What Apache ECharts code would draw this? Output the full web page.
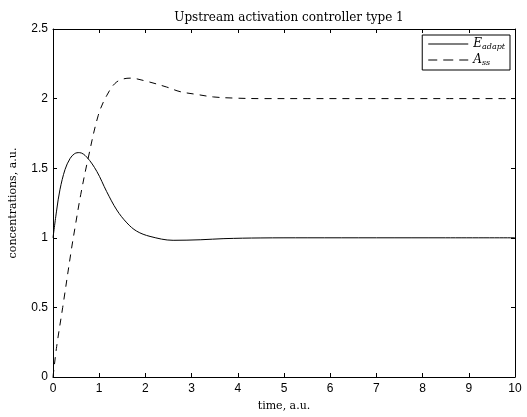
<!DOCTYPE html>
<html>
<head>
<meta charset="utf-8">
<script src="https://cdn.jsdelivr.net/npm/echarts@6/dist/echarts.min.js"></script>
<style>
  html, body { margin: 0; padding: 0; background: #fff; }
  #chart { width: 527px; height: 417px; }
</style>
</head>
<body>
<div id="chart"></div>
<script>
// Response of the adaptation controller
const timeE = [0, 0.08, 0.15, 0.26, 0.37, 0.47, 0.57, 0.73, 0.95, 1.16, 1.38, 1.6, 1.81, 2.1, 2.6, 3.2, 3.7, 4.5, 5.5, 7, 8.5, 10];
const eAdapt = [1.0, 1.20, 1.345, 1.49, 1.57, 1.605, 1.612, 1.58, 1.476, 1.333, 1.20, 1.107, 1.048, 1.01, 0.982, 0.986, 0.994, 0.999, 1.0, 1.0, 1.0, 1.0];

// Steady-state activator
const timeA = [0, 0.08, 0.21, 0.4, 0.48, 0.6, 0.76, 0.98, 1.16, 1.38, 1.67, 2.03, 2.46, 2.75, 3.11, 3.47, 3.9, 4.5, 5.5, 7, 8.5, 10];
const aSS = [0.0, 0.22, 0.5, 0.92, 1.08, 1.31, 1.57, 1.88, 2.02, 2.12, 2.147, 2.124, 2.083, 2.05, 2.03, 2.012, 2.004, 2.0, 2.0, 2.0, 2.0, 2.0];

const xTicks = [0, 1, 2, 3, 4, 5, 6, 7, 8, 9, 10];
const yTicks = [0, 0.5, 1, 1.5, 2, 2.5];

const serif = '"DejaVu Serif", "Liberation Serif", serif';
const sans = '"Liberation Sans", Arial, sans-serif';

const pairs = (xs, ys) => xs.map((x, i) => [x, ys[i]]);

// Legend keys: a plain stroke and a three-dash stroke
const solidKey = 'path://M0,0L40,0L40,1L0,1Z';
const dashedKey = 'path://M0,0L9,0L9,1L0,1Z M15,0L25,0L25,1L15,1Z M31,0L40,0L40,1L31,1Z';

const chart = echarts.init(document.getElementById('chart'), null, { renderer: 'canvas' });

const axisStyle = () => ({
  axisLine: { show: true, onZero: false, lineStyle: { color: '#000', width: 1 } },
  axisTick: { show: true, inside: true, length: 4, lineStyle: { color: '#000', width: 1 } },
  splitLine: { show: false }
});

chart.setOption({
  animation: false,
  backgroundColor: '#fff',
  title: {
    text: 'Upstream activation controller type 1',
    left: 284,
    textAlign: 'center',
    top: 7,
    textStyle: { fontFamily: serif, fontSize: 12, fontWeight: 'normal', color: '#000' }
  },
  grid: { left: 53, right: 12, top: 29, bottom: 37, containLabel: false },
  legend: {
    right: 17,
    top: 35,
    orient: 'vertical',
    itemWidth: 40,
    itemHeight: 1,
    itemGap: 2,
    padding: [2, 5, 3, 6],
    borderColor: '#000',
    borderWidth: 1,
    backgroundColor: '#fff',
    data: [
      { name: 'E', icon: solidKey, itemStyle: { color: '#000', borderWidth: 0 } },
      { name: 'A', icon: dashedKey, itemStyle: { color: '#000', borderWidth: 0 } }
    ],
    formatter: function (name) {
      return name === 'E' ? '{i|E}{s|adapt}' : '{i|A}{s|ss}';
    },
    textStyle: {
      rich: {
        i: { fontFamily: serif, fontStyle: 'italic', fontSize: 12, color: '#000', lineHeight: 15 },
        s: { fontFamily: serif, fontStyle: 'italic', fontSize: 8, color: '#000', lineHeight: 15, padding: [6, 0, 0, 0] }
      }
    }
  },
  xAxis: [
    Object.assign({
      type: 'value', min: 0, max: 10, interval: 1, position: 'bottom',
      name: 'time, a.u.', nameLocation: 'middle', nameGap: 24,
      nameTextStyle: { fontFamily: serif, fontSize: 11, color: '#000' },
      axisLabel: { fontFamily: sans, fontSize: 12, color: '#000', margin: 6, formatter: v => xTicks.includes(v) ? String(v) : '' }
    }, axisStyle()),
    Object.assign({
      type: 'value', min: 0, max: 10, interval: 1, position: 'top',
      axisLabel: { show: false }
    }, axisStyle())
  ],
  yAxis: [
    Object.assign({
      type: 'value', min: 0, max: 2.5, interval: 0.5, position: 'left',
      name: 'concentrations, a.u.', nameLocation: 'middle', nameGap: 34, nameRotate: 90,
      nameTextStyle: { fontFamily: serif, fontSize: 11, color: '#000' },
      axisLabel: { fontFamily: sans, fontSize: 12, color: '#000', margin: 5, formatter: v => yTicks.includes(v) ? String(v) : '' }
    }, axisStyle()),
    Object.assign({
      type: 'value', min: 0, max: 2.5, interval: 0.5, position: 'right',
      axisLabel: { show: false }
    }, axisStyle())
  ],
  series: [
    {
      name: 'E', type: 'line', xAxisIndex: 0, yAxisIndex: 0,
      data: pairs(timeE, eAdapt), smooth: 0.35, showSymbol: false, symbol: 'none',
      lineStyle: { color: '#000', width: 1, type: 'solid' },
      itemStyle: { color: '#000' }
    },
    {
      name: 'A', type: 'line', xAxisIndex: 0, yAxisIndex: 0,
      data: pairs(timeA, aSS), smooth: 0.35, showSymbol: false, symbol: 'none',
      lineStyle: { color: '#000', width: 1, type: [7, 6] },
      itemStyle: { color: '#000' }
    },
    // Empty series bound to the top and right axes so the box frame is drawn
    { type: 'line', xAxisIndex: 1, yAxisIndex: 1, data: [], silent: true }
  ]
});
</script>
</body>
</html>
